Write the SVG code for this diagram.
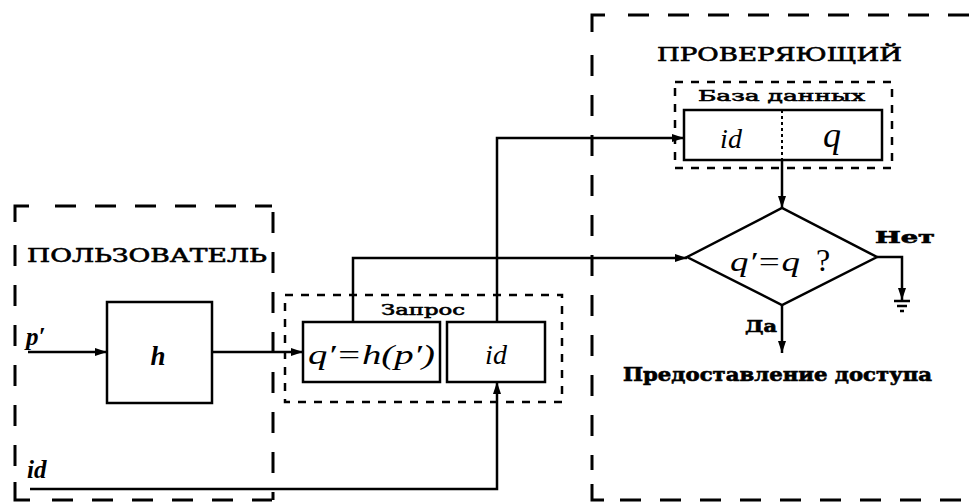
<svg xmlns="http://www.w3.org/2000/svg" width="971" height="504" viewBox="0 0 971 504">
<defs>
<marker id="arr" viewBox="0 0 12 10" refX="12" refY="5" markerWidth="12" markerHeight="10" markerUnits="userSpaceOnUse" orient="auto">
<path d="M0,1 L12,5 L0,9 Z" fill="#000"/>
</marker>
</defs>
<style>
.big{fill:none;stroke:#000;stroke-width:3;stroke-dasharray:21 19}
.bigc{fill:none;stroke:#000;stroke-width:3}
.small{fill:none;stroke:#000;stroke-width:2.5;stroke-dasharray:8 8}
.box{fill:#fff;stroke:#000;stroke-width:2.5}
.ln{fill:none;stroke:#000;stroke-width:2.5}
.cap{font-family:"DejaVu Serif","Liberation Serif",serif;fill:#000;stroke:#000;stroke-width:0.6}
.math{font-family:"Liberation Serif",serif;font-style:italic;fill:#000}
</style>
<rect width="971" height="504" fill="#fff"/>

<g id="user">
<path class="bigc" d="M15,222 V206 H29"/>
<path class="big" d="M55,206 H272"/>
<path class="big" d="M15,245 V470"/>
<path class="bigc" d="M15,482 V500 H30"/>
<path class="big" d="M52,500 H272"/>
<path class="big" d="M273,212 V500"/>
<text class="cap" x="27" y="262" font-size="18" textLength="240" lengthAdjust="spacingAndGlyphs">ПОЛЬЗОВАТЕЛЬ</text>
<text class="math" x="26" y="345" font-size="25" font-weight="bold">p′</text>
<text class="math" x="27" y="478" font-size="25" font-weight="bold">id</text>
</g>

<g id="hbox">
<rect class="box" x="107" y="302" width="105" height="101"/>
<text class="math" x="158" y="365" font-size="27" font-weight="bold" text-anchor="middle">h</text>
</g>

<g id="zapros">
<path class="small" d="M285,295 H562 V402 H285 Z"/>
<text class="cap" x="381" y="315" font-size="15" stroke-width="0.3" textLength="84" lengthAdjust="spacingAndGlyphs">Запрос</text>
</g>

<g id="qbox">
<rect class="box" x="303" y="322" width="137" height="60"/>
<text class="math" x="308" y="364" font-size="28" textLength="127" lengthAdjust="spacingAndGlyphs">q′=h(p′)</text>
</g>

<g id="idbox">
<rect class="box" x="447" y="322" width="98" height="60"/>
<text class="math" x="496" y="364" font-size="28" text-anchor="middle">id</text>
</g>

<g id="verifier">
<path class="bigc" d="M592,32 V15 H605"/>
<path class="big" d="M628,15 H971"/>
<path class="big" d="M592,55 V470"/>
<path class="bigc" d="M592,484 V500 H604"/>
<path class="big" d="M620,500 H971"/>
<text class="cap" x="657" y="61" font-size="18" textLength="245" lengthAdjust="spacingAndGlyphs">ПРОВЕРЯЮЩИЙ</text>
</g>

<g id="database">
<path class="small" d="M675,82 H892 V168 H675 Z"/>
<text class="cap" x="698" y="101" font-size="15" stroke-width="0.3" textLength="167" lengthAdjust="spacingAndGlyphs">База данных</text>
<rect class="box" x="684" y="110" width="198" height="50"/>
<path d="M782,110 V160" stroke="#000" stroke-width="2" stroke-dasharray="3 3"/>
<text class="math" x="731" y="148" font-size="28" text-anchor="middle">id</text>
<text class="math" x="832" y="147" font-size="36" text-anchor="middle">q</text>
</g>

<g id="decision">
<path class="box" d="M687,257 L782,208 L877,257 L782,305 Z"/>
<text class="math" x="730" y="271" font-size="28" textLength="70" lengthAdjust="spacingAndGlyphs">q′=q</text>
<text x="823" y="271" font-size="32" font-family="Liberation Serif,serif" text-anchor="middle">?</text>
</g>

<g id="labels">
<text class="cap" x="875" y="243" font-size="16" font-weight="bold" stroke-width="0" textLength="60" lengthAdjust="spacingAndGlyphs">Нет</text>
<text class="cap" x="745" y="332" font-size="16" font-weight="bold" stroke-width="0" textLength="32" lengthAdjust="spacingAndGlyphs">Да</text>
<text class="cap" x="623" y="381" font-size="18" font-weight="bold" stroke-width="0" textLength="309" lengthAdjust="spacingAndGlyphs">Предоставление доступа</text>
</g>

<g id="ground">
<path class="ln" d="M894,301 H910 M897,306 H907 M900,311 H904"/>
</g>

<g id="connectors">
<path class="ln" d="M28,352 H107" marker-end="url(#arr)"/>
<path class="ln" d="M212,352 H303" marker-end="url(#arr)"/>
<path class="ln" d="M30,489 H497 V382" marker-end="url(#arr)"/>
<path class="ln" d="M353,322 V258 H687" marker-end="url(#arr)"/>
<path class="ln" d="M497,322 V138 H684" marker-end="url(#arr)"/>
<path class="ln" d="M782,160 V208" marker-end="url(#arr)"/>
<path class="ln" d="M877,257 H902 V300" marker-end="url(#arr)"/>
<path class="ln" d="M782,305 V353" marker-end="url(#arr)"/>
</g>
</svg>
